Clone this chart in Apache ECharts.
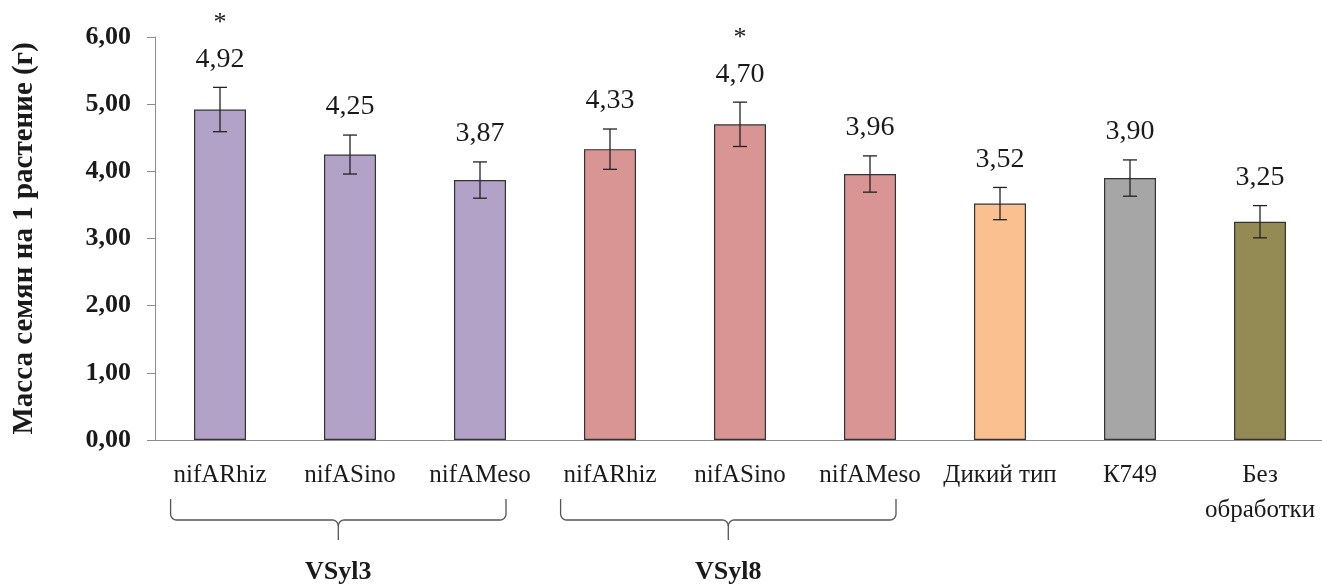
<!DOCTYPE html>
<html>
<head>
<meta charset="utf-8">
<script src="https://cdn.jsdelivr.net/npm/echarts@6/dist/echarts.min.js"></script>
<style>
  html, body { margin: 0; padding: 0; background: #fff; }
  #chart { width: 1322px; height: 585px; }
</style>
</head>
<body>
<div id="chart"></div>
<script>
const categories = ['nifARhiz', 'nifASino', 'nifAMeso', 'nifARhiz', 'nifASino', 'nifAMeso', 'Дикий тип', 'К749', 'Без\nобработки']
const values = [4.92, 4.25, 3.87, 4.33, 4.70, 3.96, 3.52, 3.90, 3.25]
const errors = [0.33, 0.29, 0.27, 0.30, 0.33, 0.27, 0.24, 0.27, 0.24]
const stars = [true, false, false, false, true, false, false, false, false]
const barColors = ['#B3A2C7', '#B3A2C7', '#B3A2C7', '#D99594', '#D99594', '#D99594', '#FAC090', '#A6A6A6', '#948A54']
const groups = [
  { name: 'VSyl3', from: 0, to: 2 },
  { name: 'VSyl8', from: 3, to: 5 },
]

const fmt = (v) => v.toFixed(2).replace('.', ',')
const serif = '"Liberation Serif", "DejaVu Serif", serif'

const chart = echarts.init(document.getElementById('chart'))

const option = {
  animation: false,
  grid: { left: 155, top: 37, width: 1170, height: 403, outerBoundsMode: 'none', containLabel: false },
  xAxis: {
    type: 'category',
    data: categories,
    axisLine: { lineStyle: { color: '#8c8c8c', width: 1 } },
    axisTick: { length: 7, lineStyle: { color: '#8c8c8c' } },
    axisLabel: {
      color: '#1a1a1a',
      fontFamily: serif,
      fontSize: 25,
      margin: 18,
      lineHeight: 35,
      interval: 0,
    },
  },
  yAxis: {
    type: 'value',
    min: 0,
    max: 6,
    interval: 1,
    name: 'Масса семян на 1 растение (г)',
    nameLocation: 'middle',
    nameGap: 116,
    nameTextStyle: { fontFamily: serif, fontSize: 29, fontWeight: 'bold', color: '#1a1a1a' },
    splitLine: { show: false },
    axisLine: { show: true, lineStyle: { color: '#8c8c8c', width: 1 } },
    axisTick: { show: true, length: 8, lineStyle: { color: '#8c8c8c' } },
    axisLabel: {
      formatter: fmt,
      fontFamily: serif,
      fontSize: 26,
      fontWeight: 'bold',
      color: '#1a1a1a',
      margin: 24,
    },
  },
  series: [
    {
      type: 'bar',
      barWidth: '40%',
      data: values.map((v, i) => ({ value: v, itemStyle: { color: barColors[i] } })),
      itemStyle: { borderColor: '#333', borderWidth: 1.2 },
    },
    {
      type: 'custom',
      data: values.map((v, i) => [i, v, errors[i], stars[i] ? 1 : 0]),
      z: 10,
      renderItem: (params, api) => {
        const idx = api.value(0)
        const v = api.value(1)
        const e = api.value(2)
        const star = api.value(3)
        const hi = api.coord([idx, v + e])
        const lo = api.coord([idx, v - e])
        const cap = 7
        const style = { stroke: '#222', lineWidth: 1.3 }
        const children = [
          { type: 'line', shape: { x1: hi[0], y1: hi[1], x2: lo[0], y2: lo[1] }, style },
          { type: 'line', shape: { x1: hi[0] - cap, y1: hi[1], x2: hi[0] + cap, y2: hi[1] }, style },
          { type: 'line', shape: { x1: lo[0] - cap, y1: lo[1], x2: lo[0] + cap, y2: lo[1] }, style },
          {
            type: 'text',
            style: {
              x: hi[0], y: hi[1] - 28, text: fmt(v), align: 'center', verticalAlign: 'middle',
              font: '28px ' + serif, fill: '#1a1a1a',
            },
          },
        ]
        if (star) {
          children.push({
            type: 'text',
            style: {
              x: hi[0], y: hi[1] - 64, text: '*', align: 'center', verticalAlign: 'middle',
              font: '26px ' + serif, fill: '#1a1a1a',
            },
          })
        }
        return { type: 'group', children }
      },
    },
  ],
}

chart.setOption(option)

// curly braces under the grouped categories
const band = 1170 / categories.length
const axisY = chart.convertToPixel({ yAxisIndex: 0 }, 0)
const corner = (cx, cy, r, a0, a1) => {
  const pts = []
  for (let k = 0; k <= 6; k++) {
    const a = a0 + (a1 - a0) * k / 6
    pts.push([cx + r * Math.cos(a), cy + r * Math.sin(a)])
  }
  return pts
}
const graphics = []
groups.forEach((g) => {
  const x1 = chart.convertToPixel({ xAxisIndex: 0 }, g.from) - band * 0.38
  const x2 = chart.convertToPixel({ xAxisIndex: 0 }, g.to) + band * 0.2
  const xm = (x1 + x2) / 2
  const top = axisY + 59
  const mid = axisY + 80
  const bot = axisY + 100
  const r = 6
  const left = [[x1, top]]
    .concat(corner(x1 + r, mid - r, r, Math.PI, Math.PI / 2))
    .concat(corner(xm - r, mid + r, r, -Math.PI / 2, 0))
    .concat([[xm, bot]])
  const right = [[x2, top]]
    .concat(corner(x2 - r, mid - r, r, 0, Math.PI / 2))
    .concat(corner(xm + r, mid + r, r, -Math.PI / 2, -Math.PI))
  const st = { stroke: '#555', lineWidth: 1.3, fill: null }
  graphics.push({ type: 'polyline', shape: { points: left }, style: st })
  graphics.push({ type: 'polyline', shape: { points: right }, style: st })
  graphics.push({
    type: 'text',
    x: xm,
    y: axisY + 132,
    style: {
      text: g.name, align: 'center', verticalAlign: 'middle',
      font: 'bold 26px ' + serif, fill: '#1a1a1a',
    },
  })
})
chart.setOption({ graphic: graphics })
</script>
</body>
</html>
